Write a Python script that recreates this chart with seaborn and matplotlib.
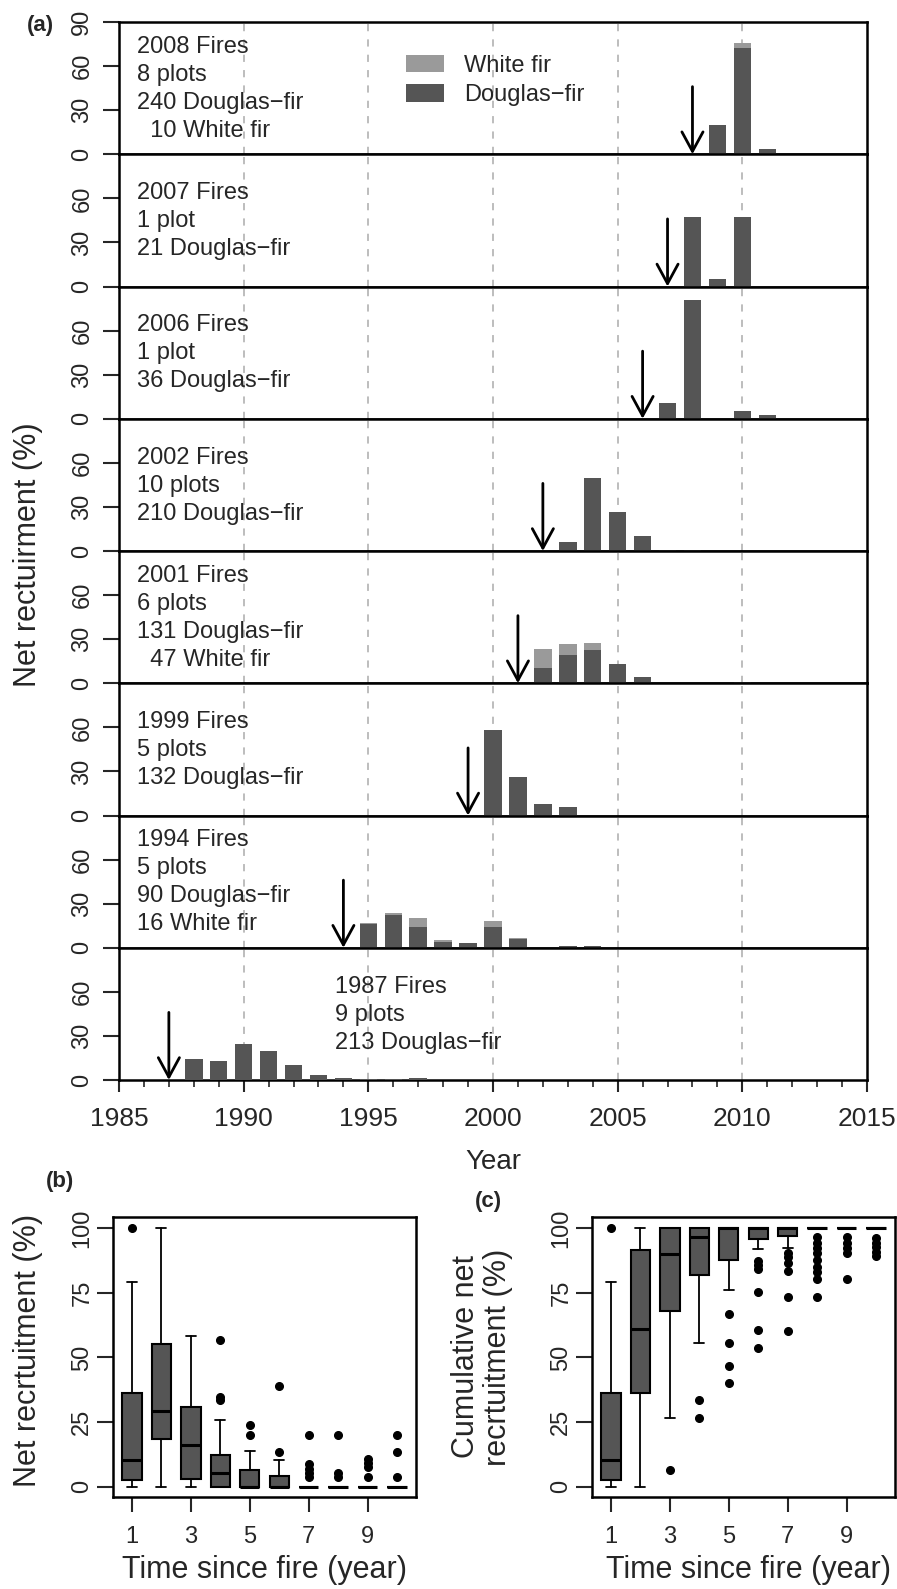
import numpy as np
import pandas as pd
import matplotlib
matplotlib.use("Agg")
import matplotlib.pyplot as plt
import seaborn as sns
from matplotlib.patches import Patch

# -----------------------------
# Data
# -----------------------------
fire_years = [2008, 2007, 2006, 2002, 2001, 1999, 1994, 1987]

bar_years = [
    [2009, 2010, 2011],
    [2008, 2009, 2010],
    [2007, 2008, 2010, 2011],
    [2003, 2004, 2005, 2006, 2007, 2008],
    [2002, 2003, 2004, 2005, 2006, 2010],
    [2000, 2001, 2002, 2003],
    [1995, 1996, 1997, 1998, 1999, 2000, 2001, 2003, 2004],
    [1988, 1989, 1990, 1991, 1992, 1993, 1994, 1995, 1996, 1997],
]
douglas_fir = [
    [20, 72, 3.5],
    [47.6, 4.8, 47.6],
    [11, 80.6, 5, 2.8],
    [6, 50, 26.6, 10, 0.5, 1],
    [10.2, 18.9, 22.3, 13.2, 4.5, 1],
    [58, 26, 8, 5.5],
    [16, 22, 14, 4, 3.2, 14, 6, 1.5, 1.5],
    [14.3, 13, 24.7, 19.5, 10, 3.4, 1.6, 0.7, 0.5, 1.3],
]
white_fir = [
    [0, 4, 0],
    [0, 0, 0],
    [0, 0, 0, 0],
    [0, 0, 0, 0, 0, 0],
    [13.2, 7.9, 5.2, 0, 0, 0],
    [0, 0, 0, 0],
    [1, 1.7, 6, 1.5, 0, 4, 0.7, 0, 0],
    [0, 0, 0, 0, 0, 0, 0, 0, 0, 0],
]
panel_text = [
    ["2008 Fires", "8 plots", "240 Douglas\u2212fir", "  10 White fir"],
    ["2007 Fires", "1 plot", "21 Douglas\u2212fir"],
    ["2006 Fires", "1 plot", "36 Douglas\u2212fir"],
    ["2002 Fires", "10 plots", "210 Douglas\u2212fir"],
    ["2001 Fires", "6 plots", "131 Douglas\u2212fir", "  47 White fir"],
    ["1999 Fires", "5 plots", "132 Douglas\u2212fir"],
    ["1994 Fires", "5 plots", "90 Douglas\u2212fir", "16 White fir"],
    ["1987 Fires", "9 plots", "213 Douglas\u2212fir"],
]
text_x = [1985.72] * 7 + [1993.65]
legend_labels = ["White fir", "Douglas\u2212fir"]

# box plot statistics, time since fire 1..10
time_since = list(range(1, 11))
b_lo = [0, 0, 0, 0, 0, 0, 0, 0, 0, 0]
b_q1 = [2.6, 18.3, 3.2, 0, 0, 0, 0, 0, 0, 0]
b_med = [10.3, 29.2, 16, 5.5, 0, 0, 0, 0, 0, 0]
b_q3 = [36.4, 55.3, 30.9, 12.5, 6.7, 4.2, 0, 0, 0, 0]
b_hi = [79, 100, 58.3, 25.7, 13.9, 10.4, 0, 0, 0, 0]
b_out = [[100], [], [], [56.6, 34.7, 33.5], [23.8, 20], [39, 13.6],
         [20, 8.7, 7, 5.3, 3.8], [20, 5.4, 4], [10.7, 9.1, 7.5, 4], [20, 13.4, 4]]

c_lo = [0, 0, 26.6, 55.6, 76, 91.9, 92.3, 100, 100, 100]
c_q1 = [2.6, 36.4, 68, 82, 87.5, 95.8, 96.9, 100, 100, 100]
c_med = [10.3, 61.1, 89.8, 96.5, 100, 100, 100, 100, 100, 100]
c_q3 = [36.4, 91.4, 100, 100, 100, 100, 100, 100, 100, 100]
c_hi = [79, 100, 100, 100, 100, 100, 100, 100, 100, 100]
c_out = [[100], [], [6.7], [33.5, 26.6], [66.7, 55.6, 46.6, 40.2],
         [87.3, 85.7, 84.2, 75.3, 60.6, 53.7],
         [90.3, 88.8, 86.5, 83.4, 73.4, 60.2],
         [96.5, 94.2, 92.3, 90.3, 87.5, 85, 83, 80.3, 73.4],
         [96.5, 94.2, 92.3, 90.3, 80.3],
         [96.1, 94.2, 92.7, 90.7, 89.2]]

DARK = "#555555"
LIGHT = "#9a9a9a"

sns.set_style("ticks")
plt.rcParams["font.family"] = ["Liberation Sans", "DejaVu Sans"]

W, H = 897, 1589
fig = plt.figure(figsize=(W / 100, H / 100), dpi=100)


def px_box(l, t, r, b):
    return [l / W, 1 - b / H, (r - l) / W, (b - t) / H]


def frame(ax):
    for s in ax.spines.values():
        s.set_visible(True)
        s.set_color("black")
        s.set_linewidth(1.8)


# -----------------------------
# (a) stacked panels
# -----------------------------
PH = 132.25
for i in range(8):
    top = 22 + PH * i
    ax = fig.add_axes(px_box(119, top, 867, top + PH))
    d = pd.DataFrame({"year": bar_years[i], "douglas": douglas_fir[i],
                      "total": np.array(douglas_fir[i]) + np.array(white_fir[i])})
    sns.barplot(data=d, x="year", y="total", native_scale=True, orient="x", width=0.7,
                color=LIGHT, saturation=1, linewidth=0, errorbar=None, ax=ax, zorder=2)
    sns.barplot(data=d, x="year", y="douglas", native_scale=True, orient="x", width=0.7,
                color=DARK, saturation=1, linewidth=0, errorbar=None, ax=ax, zorder=3)
    for g in range(1990, 2015, 5):
        ax.axvline(g, color="#b8b8b8", lw=1.3, ls=(0, (4, 4.5)), zorder=1)
    ax.annotate("", xy=(fire_years[i], 0), xytext=(fire_years[i], 46),
                arrowprops=dict(arrowstyle="->,head_length=0.7,head_width=0.38",
                                lw=2, color="black", shrinkA=0, shrinkB=0,
                                mutation_scale=20), zorder=5)
    lines = panel_text[i]
    n = len(lines)
    for j, line in enumerate(lines):
        ax.text(text_x[i], 44.5 + 19 * ((n - 1) / 2 - j), line, fontsize=17,
                ha="left", va="center")
    ax.set_xlim(1985, 2015)
    ax.set_ylim(0, 90)
    yt = [0, 30, 60, 90] if i == 0 else [0, 30, 60]
    ax.set_yticks(yt)
    ax.set_yticklabels([str(v) for v in yt], rotation=90, va="center")
    ax.tick_params(axis="y", direction="out", length=11.5, width=1.5, pad=7, labelsize=17)
    ax.set_xlabel("")
    ax.set_ylabel("")
    frame(ax)
    if i < 7:
        ax.tick_params(axis="x", bottom=False, labelbottom=False)
    else:
        ax.set_xticks(range(1985, 2016, 5))
        ax.set_xticks(range(1985, 2016), minor=True)
        ax.tick_params(axis="x", which="major", direction="out", length=8.6, width=1.5,
                       pad=11, labelsize=19)
        ax.tick_params(axis="x", which="minor", direction="out", length=5, width=1.2)
    if i == 0:
        handles = [Patch(facecolor=LIGHT, edgecolor="none"), Patch(facecolor=DARK, edgecolor="none")]
        ax.legend(handles, legend_labels, loc="upper left", bbox_to_anchor=(0.384, 0.75),
                  frameon=False, fontsize=17, handlelength=1.6, handleheight=0.75,
                  handletextpad=0.85, labelspacing=0.3, borderpad=0, borderaxespad=0)

fig.text(40 / W, 1 - 25 / H, "(a)", fontsize=16, fontweight="bold", ha="center", va="center")
fig.text(28 / W, 1 - 555 / H, "Net rectuirment (%)", fontsize=22, rotation=90,
         ha="center", va="center")
fig.text(493 / W, 1 - 1162 / H, "Year", fontsize=20, ha="center", va="center")


# -----------------------------
# (b) and (c) box plots
# -----------------------------
def box_panel(rect, lo, q1, med, q3, hi, out):
    ax = fig.add_axes(rect)
    stats = [dict(whislo=lo[k], q1=q1[k], med=med[k], q3=q3[k], whishi=hi[k], fliers=out[k])
             for k in range(len(time_since))]
    ax.bxp(stats, positions=time_since, widths=0.66, capwidths=0.33, patch_artist=True,
           boxprops=dict(facecolor=DARK, edgecolor="black", linewidth=1.5),
           medianprops=dict(color="black", linewidth=2.2),
           whiskerprops=dict(color="black", linewidth=1.3, linestyle="-"),
           capprops=dict(color="black", linewidth=1.3),
           flierprops=dict(marker="o", markerfacecolor="black", markeredgecolor="black",
                           markersize=5.5))
    ax.set_xlim(0.36, 10.64)
    ax.set_ylim(-3.9, 104.2)
    ax.set_xticks([1, 3, 5, 7, 9])
    ax.set_xticklabels(["1", "3", "5", "7", "9"])
    ax.set_yticks([0, 25, 50, 75, 100])
    ax.set_yticklabels(["0", "25", "50", "75", "100"], rotation=90, va="center")
    ax.tick_params(axis="x", direction="out", length=10.8, width=1.5, pad=10, labelsize=17)
    ax.tick_params(axis="y", direction="out", length=11.5, width=1.5, pad=2.7, labelsize=17)
    frame(ax)
    return ax


box_panel(px_box(113, 1217, 416, 1497), b_lo, b_q1, b_med, b_q3, b_hi, b_out)
box_panel(px_box(592, 1217, 895, 1497), c_lo, c_q1, c_med, c_q3, c_hi, c_out)

fig.text(60 / W, 1 - 1182 / H, "(b)", fontsize=16, fontweight="bold", ha="center", va="center")
fig.text(488 / W, 1 - 1202 / H, "(c)", fontsize=16, fontweight="bold", ha="center", va="center")
fig.text(28 / W, 1 - 1350 / H, "Net recrtuitment (%)", fontsize=22, rotation=90,
         ha="center", va="center")
fig.text(482 / W, 1 - 1357 / H, "Cumulative net\nrecrtuitment (%)", fontsize=22, rotation=90,
         ha="center", va="center", linespacing=1.05)
fig.text(265 / W, 1 - 1570 / H, "Time since fire (year)", fontsize=22, ha="center", va="center")
fig.text(748 / W, 1 - 1570 / H, "Time since fire (year)", fontsize=22, ha="center", va="center")

fig.savefig("out.png", dpi=100)
plt.close()
